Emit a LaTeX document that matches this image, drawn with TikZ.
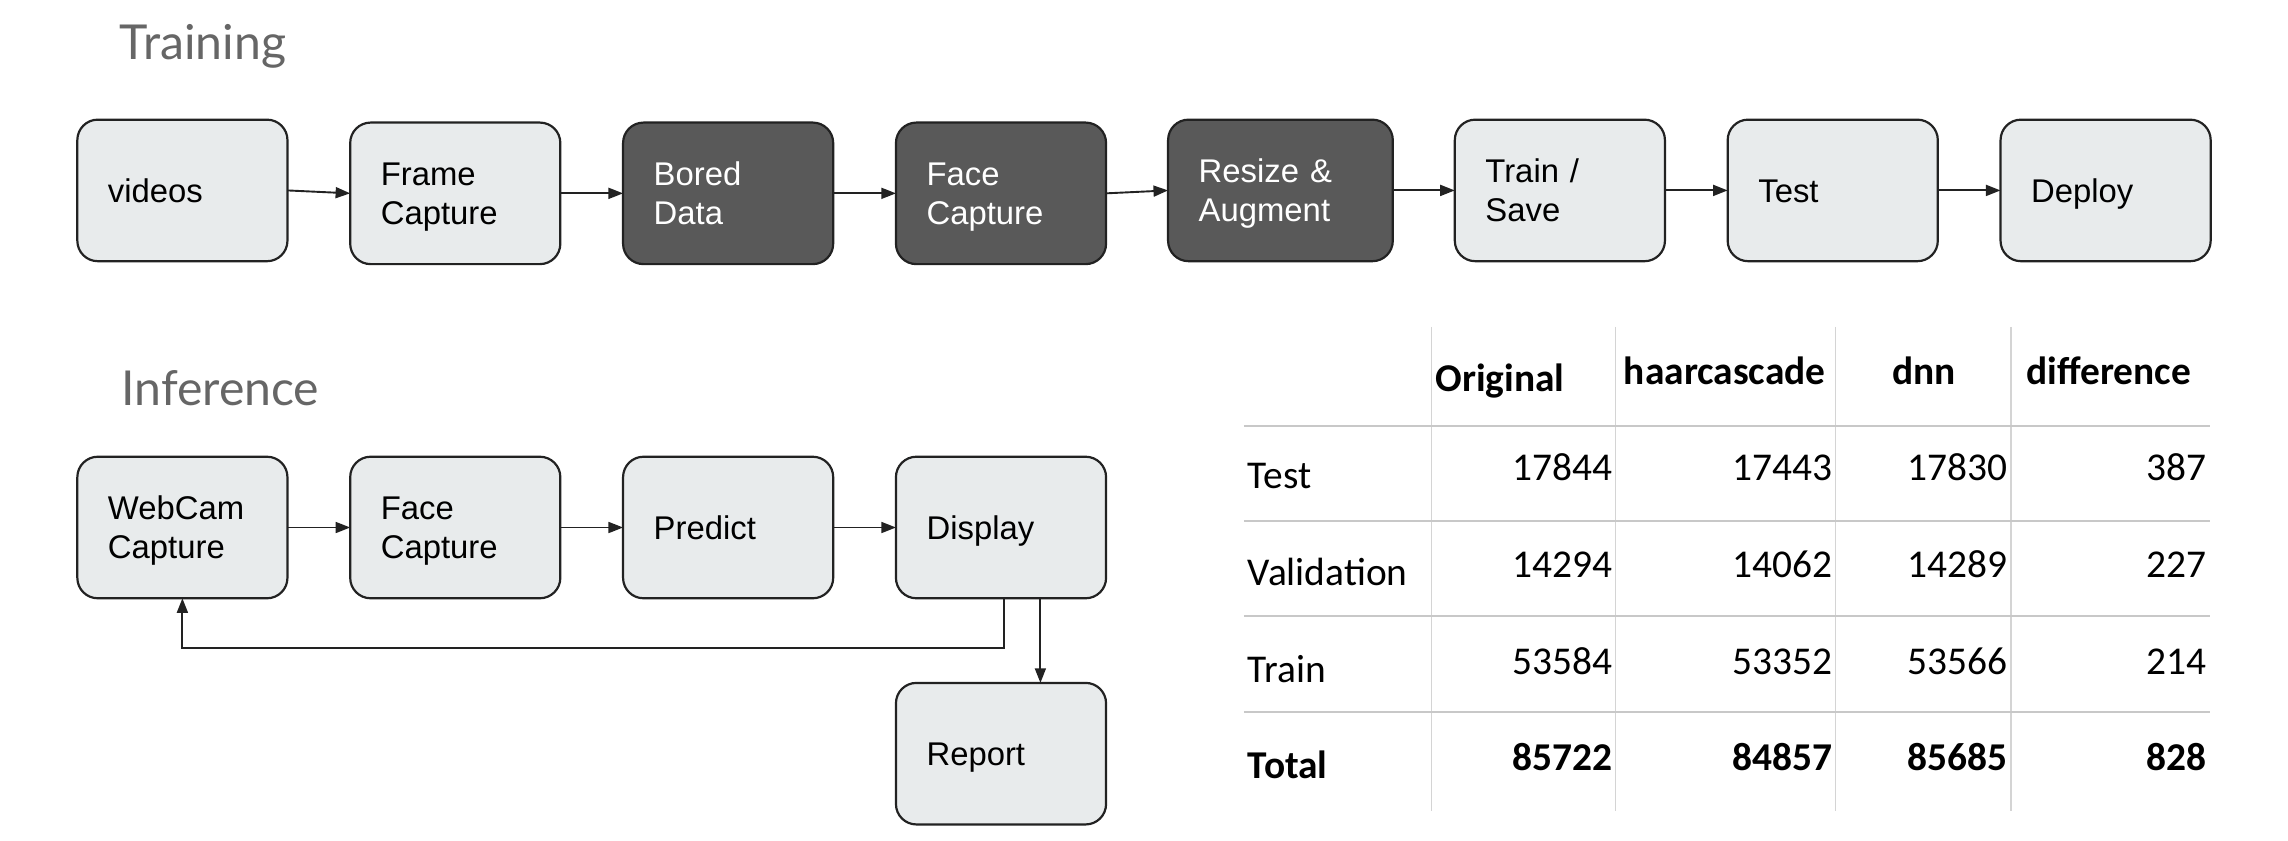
\documentclass[tikz,border=0pt]{standalone}
\usepackage{fontspec}
\usetikzlibrary{arrows.meta}
\newfontfamily\boxfont{Liberation Sans}
\newfontfamily\titlefont{Lato}
\newfontfamily\tabfont{Carlito}
\definecolor{lightfill}{HTML}{E8EBEC}
\definecolor{darkfill}{HTML}{595959}
\definecolor{edge}{HTML}{222222}
\definecolor{titlegray}{HTML}{666666}
\definecolor{hrulecol}{HTML}{C8C8C8}
\definecolor{vrulecol}{HTML}{D4D4D4}
\begin{document}
\begin{tikzpicture}[x=1pt,y=-1pt,
  stepbox/.style={draw=edge, line width=1.5pt, rounded corners=14pt, fill=lightfill,
    minimum height=97pt, inner xsep=21pt, inner ysep=0pt, text width=102pt, align=left,
    font=\boxfont\fontsize{22.5}{27}\selectfont, text height=16pt, text depth=0pt, outer sep=0pt},
  twoline/.style={text depth=27pt},
  darkbox/.style={fill=darkfill, text=white},
  flow/.style={-{Triangle[length=10pt,width=7.5pt]}, line width=1.3pt, draw=edge},
  title/.style={font=\titlefont\fontsize{33}{39}\selectfont, text=titlegray, anchor=base west, inner sep=0pt},
  cell/.style={font=\tabfont\fontsize{27}{32}\selectfont, inner sep=0pt},
  hline/.style={draw=hrulecol, line width=1.6pt},
  vline/.style={draw=vrulecol, line width=1pt}]
\useasboundingbox (0,0) rectangle (1568,576);

% ---- training pipeline ----
\node[title] (ttrain) at (82,41) {Training};
\node[stepbox] (videos) at (125,130.5) {videos};
\node[stepbox, twoline] (frame) at (312,132.5) {Frame\\Capture};
\node[stepbox, twoline, darkbox] (bored) at (499,132.5) {Bored\\Data};
\node[stepbox, twoline, darkbox] (facet) at (686,132.5) {Face\\Capture};
\node[stepbox, twoline, darkbox, text width=112pt] (resize) at (877.5,130.5) {Resize \&\\Augment};
\node[stepbox, twoline] (trainsave) at (1069,130.5) {Train /\\Save};
\node[stepbox] (test) at (1256,130.5) {Test};
\node[stepbox] (deploy) at (1443,130.5) {Deploy};

\draw[flow] (videos.east) -- (frame.west);
\draw[flow] (frame.east) -- (bored.west);
\draw[flow] (bored.east) -- (facet.west);
\draw[flow] (facet.east) -- (resize.west);
\draw[flow] (resize.east) -- (trainsave.west);
\draw[flow] (trainsave.east) -- (test.west);
\draw[flow] (test.east) -- (deploy.west);

% ---- inference pipeline ----
\node[title] (tinfer) at (83,277.6) {Inference};
\node[stepbox, twoline] (webcam) at (125,361.5) {WebCam\\Capture};
\node[stepbox, twoline] (facei) at (312,361.5) {Face\\Capture};
\node[stepbox] (predict) at (499,361.5) {Predict};
\node[stepbox] (display) at (686,361.5) {Display};
\node[stepbox] (report) at (686,516.5) {Report};

\draw[flow] (webcam.east) -- (facei.west);
\draw[flow] (facei.east) -- (predict.west);
\draw[flow] (predict.east) -- (display.west);
\coordinate (loopy) at (0,444);
\draw[flow] ([xshift=2pt]display.south) -- ([xshift=2pt]display.south |- loopy) -| (webcam.south);
\draw[flow] ([xshift=27pt]display.south) -- ([xshift=27pt]report.north);

% ---- results table ----
\foreach \x in {981,1107,1258,1378} \draw[vline] (\x,224) -- (\x,556);
\foreach \y in {292,357,422,488} \draw[hline] (852.5,\y) -- (1514.7,\y);

\node[cell, anchor=base west] (horig) at (983.6,268.6) {\bfseries Original};
\node[cell, anchor=base west] (hhaar) at (1112.7,263.5) {\bfseries haarcascade};
\node[cell, anchor=base west] (hdnn) at (1296.8,263.5) {\bfseries dnn};
\node[cell, anchor=base west] (hdiff) at (1388.6,263.5) {\bfseries difference};

\node[cell, anchor=base west] (rtest) at (855,335) {Test};
\node[cell, anchor=base west] (rval) at (855,401.5) {Validation};
\node[cell, anchor=base west] (rtrain) at (855,467.4) {Train};
\node[cell, anchor=base west] (rtotal) at (855,533.4) {\bfseries Total};

\foreach \r/\y/\a/\b/\c/\d/\w in {
  1/329.4/17844/17443/17830/387/\mdseries,
  2/396.0/14294/14062/14289/227/\mdseries,
  3/462.3/53584/53352/53566/214/\mdseries,
  4/528.3/85722/84857/85685/828/\bfseries} {
  \node[cell, anchor=base east] (n\r a) at (1105,\y) {\w\a};
  \node[cell, anchor=base east] (n\r b) at (1256,\y) {\w\b};
  \node[cell, anchor=base east] (n\r c) at (1376,\y) {\w\c};
  \node[cell, anchor=base east] (n\r d) at (1512,\y) {\w\d};
}
\end{tikzpicture}
\end{document}
